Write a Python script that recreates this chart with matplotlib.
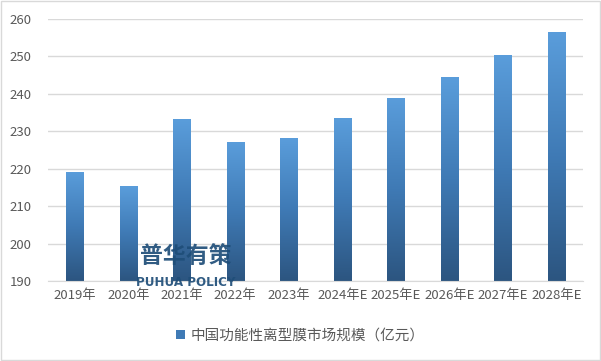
import matplotlib

matplotlib.use("Agg")
import matplotlib.pyplot as plt
import numpy as np
from matplotlib.colors import LinearSegmentedColormap
from matplotlib.patches import Rectangle

plt.rcParams["font.family"] = ["Noto Sans CJK SC", "DejaVu Sans"]

years = ["2019年", "2020年", "2021年", "2022年", "2023年",
         "2024年E", "2025年E", "2026年E", "2027年E", "2028年E"]
market_size = [219.2, 215.3, 233.2, 227.1, 228.1, 233.5, 238.9, 244.5, 250.3, 256.4]
series_name = "中国功能性离型膜市场规模（亿元）"

y_min, y_max = 190, 260
bar_w = 0.32

fig = plt.figure(figsize=(6.01, 3.61), dpi=100)
ax = fig.add_axes([48 / 601, 1 - 281 / 361, 535 / 601, 262 / 361])

# vertical gradient, light blue at top to dark blue at bottom
cmap = LinearSegmentedColormap.from_list("bar", ["#2C5580", "#3F7AB5", "#5A9DDB"])
grad = np.linspace(0, 1, 256).reshape(-1, 1)

x = np.arange(len(years))
for xi, v in zip(x, market_size):
    rect = Rectangle((xi - bar_w / 2, y_min), bar_w, v - y_min,
                     facecolor="none", edgecolor="none")
    ax.add_patch(rect)
    im = ax.imshow(grad, cmap=cmap, origin="lower", aspect="auto",
                   extent=(xi - bar_w / 2, xi + bar_w / 2, y_min, v), zorder=2)
    im.set_clip_path(rect)

ax.set_xlim(-0.5, len(years) - 0.5)
ax.set_ylim(y_min, y_max)
ax.set_yticks(range(190, 261, 10))
ax.set_xticks(x)
ax.set_xticklabels(years)
ax.tick_params(axis="both", length=0, labelsize=9.5, colors="#595959")
ax.tick_params(axis="y", pad=12)
ax.tick_params(axis="x", pad=6)
ax.grid(axis="y", color="#D9D9D9", linewidth=1)
ax.set_axisbelow(True)
for s in ["top", "right", "left"]:
    ax.spines[s].set_visible(False)
ax.spines["bottom"].set_color("#D9D9D9")

# legend
h = Rectangle((0, 0), 1, 1, facecolor="#3F7AB5")
fig.legend([h], [series_name], loc="center", bbox_to_anchor=(0.5, 1 - 336 / 361),
           frameon=False, fontsize=10.5, handlelength=0.6, handleheight=0.6,
           handletextpad=0.4, labelcolor="#595959")

# watermark
fig.text(186 / 601, 1 - 256 / 361, "普华有策", ha="center", va="center",
         fontsize=16.5, fontweight="bold", color="#1F4E79", alpha=0.92)
fig.text(186 / 601, 1 - 282 / 361, "PUHUA POLICY", ha="center", va="center",
         fontsize=9.5, fontweight="bold", color="#1F4E79", alpha=0.92,
         family="DejaVu Sans", stretch="condensed")

# outer border
fig.patches.append(Rectangle((0.002, 0.003), 0.996, 0.994, transform=fig.transFigure,
                             fill=False, edgecolor="#D9D9D9", linewidth=1))

fig.savefig("out.png", dpi=100)
